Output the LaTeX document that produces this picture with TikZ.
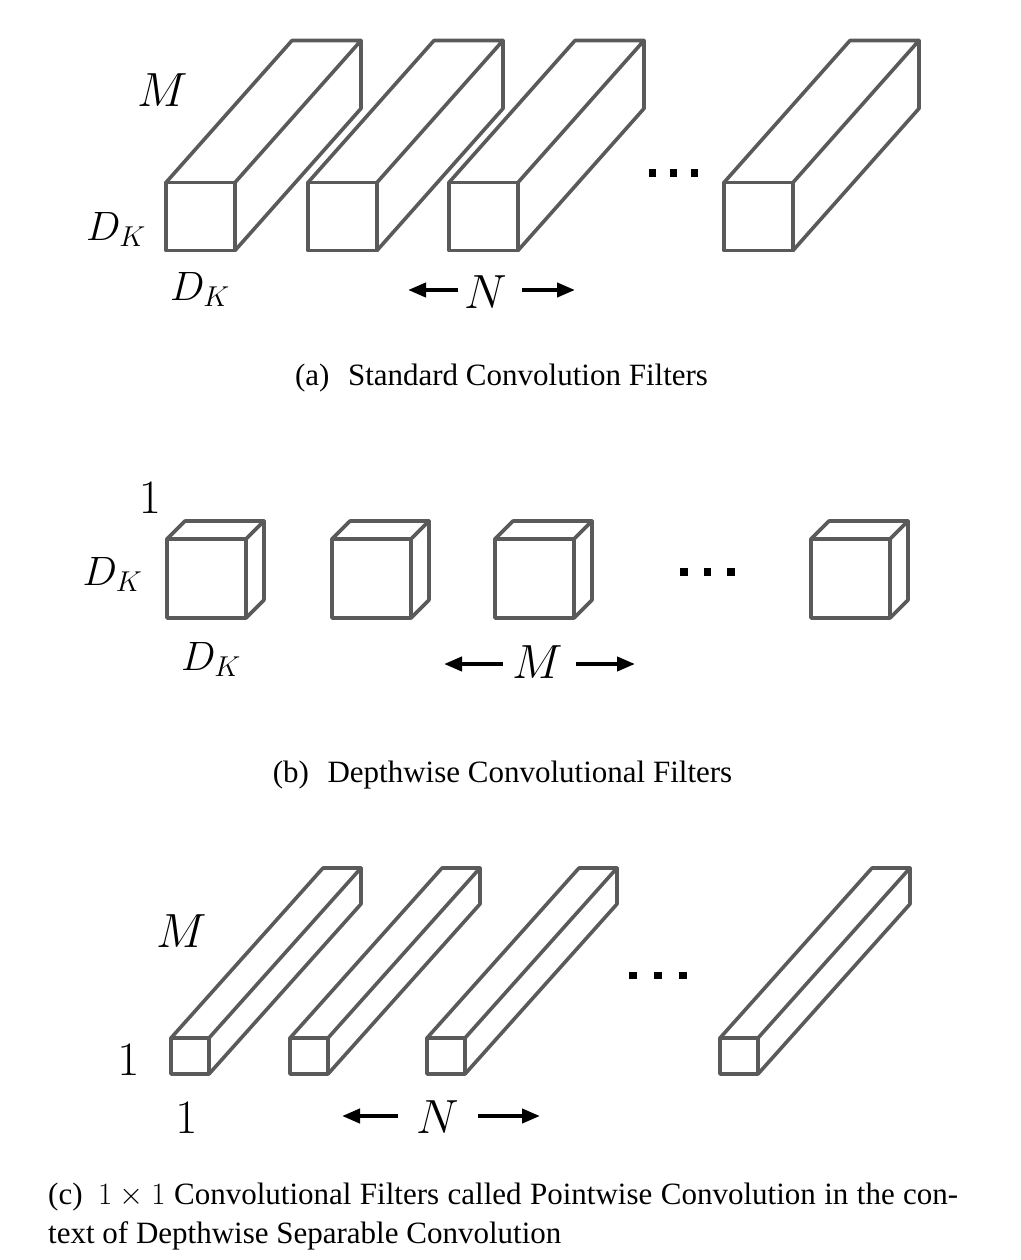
\RequirePackage{fix-cm}
\documentclass[tikz,border=0pt]{standalone}
\usepackage[no-math]{fontspec}
\setmainfont{Liberation Serif}
\usetikzlibrary{arrows.meta}
\definecolor{boxgray}{RGB}{90,90,90}
\tikzset{
  box/.style={draw=boxgray, line width=3.6pt, line join=round, line cap=round},
  lab/.style={inner sep=0pt, anchor=base, font=\fontsize{48}{56}\selectfont},
  dk/.style={inner sep=0pt, anchor=base, font=\fontsize{41}{48}\selectfont},
  captxt/.style={inner sep=0pt, anchor=base, font=\fontsize{31}{37.5}\selectfont},
  arr/.style={line width=4pt, -{Triangle[length=18pt,width=14pt]}},
  sqdot/.style={fill=black, draw=none}
}
% x, y(top), width, height, depth dx, depth dy(up)
\newcommand\cuboid[6]{%
  \draw[box] (#1,#2) rectangle (#1+#3,#2+#4);
  \draw[box] (#1,#2) -- (#1+#5,#2-#6) -- (#1+#3+#5,#2-#6) -- (#1+#3,#2);
  \draw[box] (#1+#3+#5,#2-#6) -- (#1+#3+#5,#2+#4-#6) -- (#1+#3,#2+#4);
}
\newcommand\sqd[2]{\fill[sqdot] (#1-3.7,#2-3.7) rectangle (#1+3.7,#2+3.7);}
\begin{document}
\begin{tikzpicture}[x=1pt,y=-1pt]
\useasboundingbox (0,0) rectangle (1020,1260);

% ---------- (a) standard convolution filters ----------
\cuboid{166}{182.5}{69}{68}{126}{142}
\cuboid{308}{182.5}{69}{68}{126}{142}
\cuboid{449}{182.5}{69}{68}{126}{142}
\cuboid{724}{182.5}{69}{68}{126}{142}
\sqd{652.5}{173}\sqd{673.5}{173}\sqd{694.5}{173}
\node[lab] (aM) at (163,107) {$M$};
\node[dk] (aDl) at (116,240) {$D_K$};
\node[dk] (aDb) at (200,300) {$D_K$};
\node[lab] (aN) at (486,308) {$N$};
\coordinate (aLs) at (458,290); \coordinate (aLe) at (408,290);
\coordinate (aRs) at (522,290); \coordinate (aRe) at (575,290);
\draw[arr] (aLs) -- (aLe);
\draw[arr] (aRs) -- (aRe);
\node[captxt] (capa) at (501.5,385) {(a)\hspace{0.6em}Standard Convolution Filters};

% ---------- (b) depthwise convolutional filters ----------
\cuboid{167}{539}{79}{79}{18}{18}
\cuboid{332}{539}{79}{79}{18}{18}
\cuboid{495}{539}{79}{79}{18}{18}
\cuboid{811}{539}{79}{79}{18}{18}
\sqd{684}{572}\sqd{707.5}{572}\sqd{731}{572}
\node[lab] (b1) at (150,513) {$1$};
\node[dk] (bDl) at (112.5,585) {$D_K$};
\node[dk] (bDb) at (211,670) {$D_K$};
\node[lab] (bM) at (537.5,678) {$M$};
\coordinate (bLs) at (503,664); \coordinate (bLe) at (444,664);
\coordinate (bRs) at (576,664); \coordinate (bRe) at (635,664);
\draw[arr] (bLs) -- (bLe);
\draw[arr] (bRs) -- (bRe);
\node[captxt] (capb) at (502.5,782) {(b)\hspace{0.6em}Depthwise Convolutional Filters};

% ---------- (c) pointwise convolution ----------
\cuboid{171}{1038}{38}{36}{152}{170}
\cuboid{290}{1038}{38}{36}{152}{170}
\cuboid{427}{1038}{38}{36}{152}{170}
\cuboid{720}{1038}{38}{36}{152}{170}
\sqd{633}{975.5}\sqd{658}{975.5}\sqd{683}{975.5}
\node[lab] (cM) at (181.5,947) {$M$};
\node[lab] (c1l) at (128.5,1075) {$1$};
\node[lab] (c1b) at (186.5,1133) {$1$};
\node[lab] (cN) at (438,1133) {$N$};
\coordinate (cLs) at (398,1116); \coordinate (cLe) at (342,1116);
\coordinate (cRs) at (478,1116); \coordinate (cRe) at (540,1116);
\draw[arr] (cLs) -- (cLe);
\draw[arr] (cRs) -- (cRe);
\node[captxt, anchor=base west] (capc1) at (48,1204)
  {\makebox[910pt][s]{(c)\hspace{0.5em}$1\times 1$ Convolutional Filters called Pointwise Convolution in the con-}};
\node[captxt, anchor=base west] (capc2) at (48,1243)
  {text of Depthwise Separable Convolution};
\end{tikzpicture}
\end{document}
